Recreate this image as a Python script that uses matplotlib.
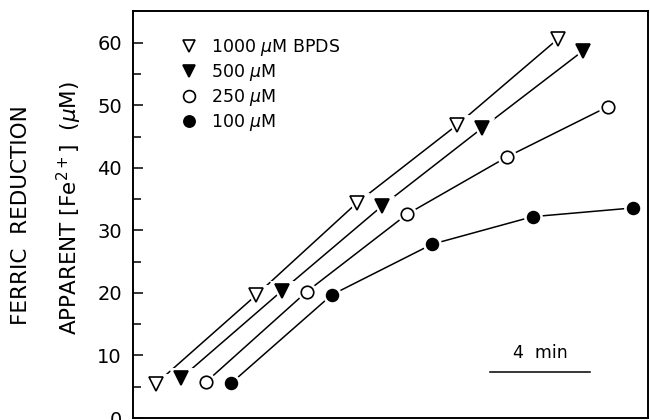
import matplotlib
matplotlib.use("Agg")
import matplotlib.pyplot as plt
from matplotlib.lines import Line2D

plt.rcParams['font.family'] = ['DejaVu Sans']
plt.rcParams['mathtext.fontset'] = 'dejavusans'

# ---- data ----
times = [0, 4, 8, 12, 16]            # minutes (sampling every 4 min)
stagger = [0, 1, 2, 3]               # horizontal offset of each series (min)
labels = ["1000 $\\mu$M BPDS", "500 $\\mu$M", "250 $\\mu$M", "100 $\\mu$M"]
fe_1000 = [5.5, 19.7, 34.4, 46.9, 60.6]
fe_500 = [6.4, 20.3, 33.9, 46.4, 58.7]
fe_250 = [5.8, 20.2, 32.6, 41.8, 49.8]
fe_100 = [5.6, 19.7, 27.8, 32.2, 33.6]
series = [fe_1000, fe_500, fe_250, fe_100]
markers = ['v', 'v', 'o', 'o']
facecolors = ['white', 'black', 'white', 'black']
msizes = [9.5, 9.5, 9.0, 8.5]
yticks = [0, 10, 20, 30, 40, 50, 60]

fig = plt.figure(figsize=(6.5, 4.2), dpi=100)
ax = fig.add_axes([133/650, 2/420, (648-133)/650, (418-11)/420])

for vals, off, mk, fc, ms in zip(series, stagger, markers, facecolors, msizes):
    xs = [t + off for t in times]
    ax.plot(xs, vals, color='black', lw=1.1, zorder=2, clip_on=False)
    ax.plot(xs, vals, ls='none', marker=mk, ms=ms, mfc='white', mec='white',
            mew=5, zorder=3, clip_on=False)
    ax.plot(xs, vals, ls='none', marker=mk, ms=ms, mfc=fc, mec='black',
            mew=1.2, zorder=4, clip_on=False)

ax.set_xlim(-0.92, 19.6)
ax.set_ylim(0, 65.1)
ax.set_yticks(yticks)
ax.set_yticks([5, 15, 25, 35, 45, 55], minor=True)
ax.set_xticks([])
ax.tick_params(axis='y', which='major', direction='in', length=7.5, width=1.1,
               labelsize=14, pad=8)
ax.tick_params(axis='y', which='minor', direction='in', length=6, width=1.1)
for s in ax.spines.values():
    s.set_linewidth(1.4)

# scale bar (4 min)
bar_len = 4
bar_start = 13.3
ax.plot([bar_start, bar_start + bar_len], [7.4, 7.4], color='black', lw=1.1)
ax.text(bar_start + bar_len / 2, 10.4, "4  min", ha='center', va='center', fontsize=12.5)

handles = [Line2D([], [], ls='none', marker=mk, ms=ms * 0.95, mfc=fc, mec='black', mew=1.2)
           for mk, fc, ms in zip(markers, facecolors, msizes)]
ax.legend(handles, labels, loc='upper left', bbox_to_anchor=(0.095, 0.935), frameon=False,
          fontsize=12.5, handlelength=0.8, handletextpad=0.85, labelspacing=0.22,
          borderaxespad=0, borderpad=0)

fig.text(21/650, 1 - 215/420, "FERRIC  REDUCTION", rotation=90, ha='center', va='center',
         fontsize=15.5)
fig.text(69/650, 1 - 208/420, "APPARENT $\\left[\\mathrm{Fe}^{2+}\\right]$  ($\\mu$M)",
         rotation=90, ha='center', va='center', fontsize=15.5)

fig.savefig("out.png", dpi=100)
